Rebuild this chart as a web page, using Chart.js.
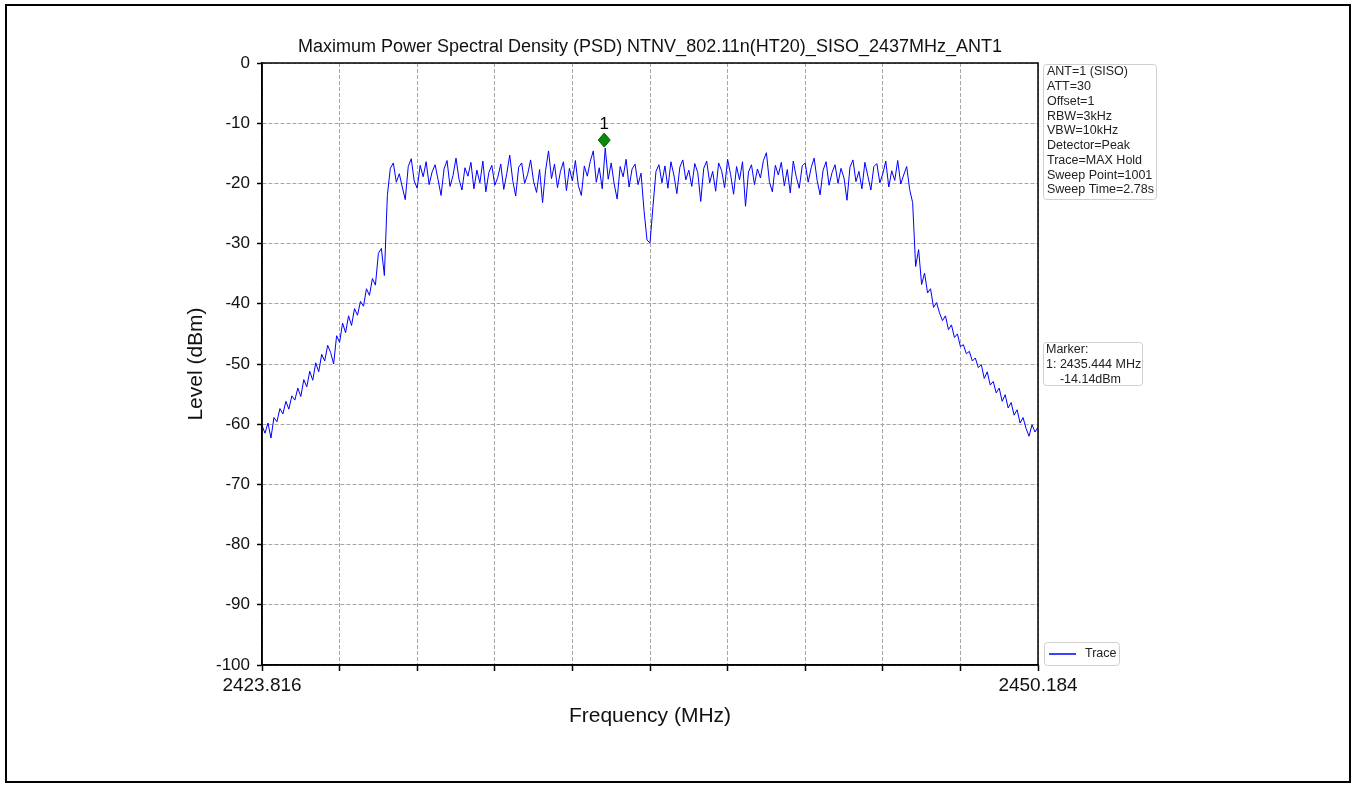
<!DOCTYPE html>
<html><head><meta charset="utf-8">
<script src="https://cdn.jsdelivr.net/npm/chart.js@4.4.1/dist/chart.umd.min.js"></script>
<style>html,body{margin:0;padding:0;background:#fff;}#wrap{width:1356px;height:785px;position:relative;}</style>
</head><body><div id="wrap"><canvas id="c" width="1356" height="785"></canvas></div>
<script>
// ---- data ----
const chartTitle = 'Maximum Power Spectral Density (PSD) NTNV_802.11n(HT20)_SISO_2437MHz_ANT1';
const xAxisTitle = 'Frequency (MHz)';
const yAxisTitle = 'Level (dBm)';
const freqStart = 2423.816;
const freqStop = 2450.184;
const xTickLabels = ['2423.816', '2450.184'];
const xTickCount = 11;
const yMin = -100, yMax = 0, yStep = 10;
const markerFreq = 2435.444;
const markerLevel = -14.14;
const markerLabel = '1';
const infoLines = ['ANT=1 (SISO)', 'ATT=30', 'Offset=1', 'RBW=3kHz', 'VBW=10kHz', 'Detector=Peak', 'Trace=MAX Hold', 'Sweep Point=1001', 'Sweep Time=2.78s'];
const markerLines = ['Marker:', '1: 2435.444 MHz', '    -14.14dBm'];
const legendLabel = 'Trace';
// trace levels (dBm), evenly spaced across the sweep
const levelsLeft = [-60.2,-61.5,-59.8,-62.3,-58.9,-59.6,-57.4,-58.3,-56.2,-57.5,
  -55.3,-56.0,-54.0,-55.4,-52.6,-53.8,-51.2,-52.7,-49.8,-51.3,
  -48.4,-49.5,-46.9,-48.1,-50.0,-45.3,-46.4,-43.2,-44.8,-42.0,
  -43.6,-40.8,-41.9,-39.6,-40.4,-37.5,-38.6,-35.8,-36.9,-31.6,
  -30.8,-35.3,-22.0];
const levelsTop = [-17.5,-16.6,-19.8,-18.4,-20.6,-22.7,-17.2,-15.9,-19.6,-20.8,
  -17.0,-18.9,-16.4,-20.2,-18.1,-16.9,-19.4,-22.0,-17.6,-16.2,
  -20.5,-18.7,-15.8,-19.3,-21.1,-17.4,-18.8,-16.5,-20.9,-17.8,
  -19.9,-16.3,-21.4,-18.2,-17.0,-20.3,-19.0,-16.8,-21.0,-18.4,
  -15.3,-19.5,-22.1,-17.3,-16.6,-20.0,-18.5,-16.1,-19.7,-21.5,
  -17.7,-23.2,-17.9,-14.6,-19.2,-16.8,-20.7,-18.0,-16.4,-21.2,
  -17.5,-19.6,-16.2,-20.4,-22.0,-17.1,-18.8,-16.3,-14.6,-19.8,
  -17.4,-20.9,-14.14,-19.3,-16.6,-20.1,-22.6,-17.2,-18.9,-16.0,
  -20.6,-17.6,-16.8,-20.2,-18.3,-24.5,-29.4,-29.9,-23.8,-18.0,
  -16.9,-19.9,-17.1,-20.8,-16.4,-18.6,-21.7,-17.3,-16.1,-19.4,
  -17.8,-20.5,-16.7,-18.2,-23.0,-17.5,-16.3,-19.9,-18.0,-21.3,
  -16.6,-17.9,-20.7,-16.0,-18.5,-21.8,-17.2,-19.4,-16.4,-23.8,
  -18.1,-16.9,-20.2,-17.6,-19.1,-16.2,-14.9,-19.7,-21.4,-17.0,
  -18.6,-16.5,-20.4,-17.7,-21.6,-16.3,-18.9,-20.8,-17.1,-16.6,
  -19.8,-17.4,-15.8,-19.5,-21.9,-17.8,-16.4,-20.3,-18.2,-16.9,
  -20.0,-17.5,-19.1,-22.8,-17.3,-16.1,-19.7,-18.0,-20.9,-16.5,
  -18.8,-21.1,-17.2,-16.7,-19.9,-18.4,-16.3,-20.6,-17.9,-19.5,
  -16.2,-20.1,-18.6];
const levelsRight = [-17.2,-21.0,-23.2,-33.8,-31.0,-36.8,-34.9,-38.2,-37.5,-40.6,
  -39.8,-41.5,-42.8,-42.0,-44.3,-43.5,-45.6,-45.0,-47.1,-46.8,
  -48.3,-47.9,-49.5,-49.0,-50.6,-50.1,-52.4,-51.3,-53.5,-52.9,
  -54.8,-54.0,-56.2,-55.1,-57.3,-56.4,-58.5,-57.6,-59.8,-58.9,
  -60.7,-62.0,-60.1,-61.3,-60.5];

// ---- build ----
const levels = levelsLeft.concat(levelsTop, levelsRight);
const nPts = levels.length;
const points = levels.map((v, i) => ({x: freqStart + i * (freqStop - freqStart) / (nPts - 1), y: v}));

const FONT = '"Liberation Sans", Arial, Helvetica, sans-serif';

const overlay = {
  id: 'overlay',
  beforeDraw(chart) {
    const ctx = chart.ctx;
    ctx.save();
    ctx.fillStyle = '#fff';
    ctx.fillRect(0, 0, chart.width, chart.height);
    ctx.restore();
  },
  afterDraw(chart) {
    const ctx = chart.ctx;
    const a = chart.chartArea;
    const xs = chart.scales.x, ys = chart.scales.y;
    ctx.save();
    // plot frame
    ctx.strokeStyle = '#000';
    ctx.lineWidth = 1.5;
    ctx.strokeRect(a.left, a.top, a.right - a.left, a.bottom - a.top);
    // marker
    const mx = xs.getPixelForValue(markerFreq);
    const my = ys.getPixelForValue(markerLevel) - 8;
    ctx.beginPath();
    ctx.moveTo(mx, my - 7); ctx.lineTo(mx + 6, my); ctx.lineTo(mx, my + 7); ctx.lineTo(mx - 6, my); ctx.closePath();
    ctx.fillStyle = '#0a8a0a'; ctx.fill();
    ctx.strokeStyle = '#006400'; ctx.lineWidth = 1; ctx.stroke();
    ctx.fillStyle = '#000';
    ctx.font = '17px ' + FONT;
    ctx.textAlign = 'center'; ctx.textBaseline = 'middle';
    ctx.fillText(markerLabel, mx, my - 16);
    // title
    ctx.font = '18px ' + FONT;
    ctx.fillStyle = '#111';
    ctx.fillText(chartTitle, (a.left + a.right) / 2, 47);
    // axis titles
    ctx.font = '21px ' + FONT;
    ctx.fillText(xAxisTitle, (a.left + a.right) / 2, 716);
    ctx.save();
    ctx.translate(196, (a.top + a.bottom) / 2);
    ctx.rotate(-Math.PI / 2);
    ctx.fillText(yAxisTitle, 0, 0);
    ctx.restore();
    // info boxes
    function box(x, y, w, h) {
      ctx.beginPath();
      if (ctx.roundRect) ctx.roundRect(x, y, w, h, 3); else ctx.rect(x, y, w, h);
      ctx.fillStyle = '#fff'; ctx.fill();
      ctx.strokeStyle = '#cfcfcf'; ctx.lineWidth = 1; ctx.stroke();
    }
    ctx.font = '12.5px ' + FONT;
    ctx.textAlign = 'left'; ctx.textBaseline = 'middle';
    box(1043.5, 64.5, 113, 135);
    ctx.fillStyle = '#222';
    infoLines.forEach((t, i) => ctx.fillText(t, 1047, 72 + i * 14.75));
    box(1043.5, 342.5, 99, 43);
    ctx.fillStyle = '#222';
    markerLines.forEach((t, i) => ctx.fillText(t, 1046, 350 + i * 14.75));
    box(1044.5, 642.5, 75, 23);
    ctx.strokeStyle = '#0000ff'; ctx.lineWidth = 1.5;
    ctx.beginPath(); ctx.moveTo(1049, 654); ctx.lineTo(1076, 654); ctx.stroke();
    ctx.fillStyle = '#222';
    ctx.fillText(legendLabel, 1085, 654);
    // outer border
    ctx.strokeStyle = '#000'; ctx.lineWidth = 2;
    ctx.strokeRect(6, 5, 1344, 777);
    ctx.restore();
  }
};

new Chart(document.getElementById('c'), {
  type: 'line',
  data: {
    datasets: [{
      label: legendLabel,
      data: points,
      borderColor: '#0000ff',
      borderWidth: 1,
      pointRadius: 0,
      tension: 0,
      fill: false
    }]
  },
  options: {
    responsive: false,
    animation: false,
    devicePixelRatio: 1,
    layout: {padding: {left: 0, top: 63, right: 318, bottom: 0}},
    plugins: {legend: {display: false}, title: {display: false}, tooltip: {enabled: false}},
    scales: {
      x: {
        type: 'linear',
        min: freqStart,
        max: freqStop,
        afterBuildTicks(s) {
          const t = [];
          for (let k = 0; k < xTickCount; k++) t.push({value: freqStart + k * (freqStop - freqStart) / (xTickCount - 1)});
          s.ticks = t;
        },
        afterFit(s) { s.height = 120; },
        ticks: {
          autoSkip: false, maxRotation: 0, minRotation: 0,
          padding: 3,
          color: '#111',
          font: {family: FONT, size: 19},
          callback: (v, i, arr) => i === 0 ? xTickLabels[0] : (i === arr.length - 1 ? xTickLabels[1] : '')
        },
        grid: {color: '#a6a6a6', lineWidth: 1, tickColor: '#000', tickLength: 6, tickWidth: 1.5},
        border: {display: true, color: '#000', width: 1.5, dash: [4, 2]}
      },
      y: {
        min: yMin, max: yMax,
        afterFit(s) { s.width = 262; },
        ticks: {
          stepSize: yStep,
          padding: 7,
          color: '#111',
          font: {family: FONT, size: 17}
        },
        grid: {color: '#a6a6a6', lineWidth: 1, tickColor: '#000', tickLength: 5, tickWidth: 1.5},
        border: {display: true, color: '#000', width: 1.5, dash: [4, 2]}
      }
    }
  },
  plugins: [overlay]
});
</script>
</body></html>
